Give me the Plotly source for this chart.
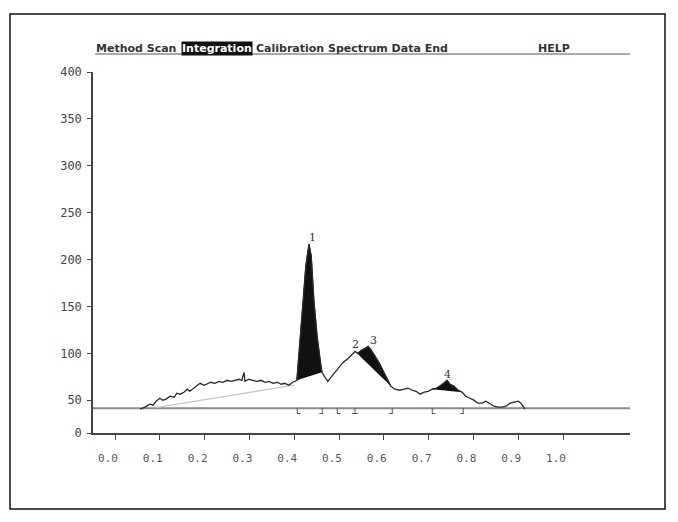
import plotly.graph_objects as go

# ---------------- data ----------------
scan_x = [0.056,0.067,0.078,0.085,0.092,0.100,0.107,0.114,0.123,0.132,0.138,0.145,0.154,0.161,0.167,
          0.176,0.183,0.190,0.199,0.205,0.214,0.223,0.232,0.241,0.250,0.259,0.268,0.277,0.283,0.288,
          0.290,0.299,0.308,0.317,0.326,0.335,0.344,0.353,0.362,0.371,0.379,0.388,0.397,0.406,0.413,
          0.420,0.426,0.433,0.438,0.444,0.451,0.458,0.462,0.469,0.475,0.482,0.491,0.500,0.509,0.518,
          0.527,0.536,0.542,0.549,0.558,0.565,0.571,0.580,0.589,0.598,0.607,0.616,0.625,0.636,0.645,
          0.654,0.663,0.672,0.681,0.690,0.699,0.708,0.717,0.725,0.734,0.741,0.748,0.757,0.766,0.775,
          0.783,0.792,0.801,0.810,0.819,0.828,0.837,0.846,0.855,0.864,0.873,0.882,0.891,0.900,0.906,
          0.911,0.915]
scan_y = [40.5,42.6,45.8,44.7,48.9,52.1,50.0,51.1,54.2,53.2,57.4,56.4,58.5,61.7,59.5,
          62.7,64.8,68.0,65.9,67.0,69.1,68.0,70.1,69.1,71.2,70.1,71.2,72.3,71.2,79.7,
          70.1,72.3,71.2,70.1,71.2,69.1,70.1,68.0,69.1,67.0,68.0,65.9,69.1,71.2,113.6,
          156.0,193.2,216.5,203.8,156.0,118.9,92.4,79.7,74.4,70.1,74.4,79.7,85.0,90.3,93.5,
          97.7,102.0,99.8,103.0,105.1,107.3,104.1,97.7,90.3,81.8,73.3,64.8,61.7,60.6,61.7,
          62.7,60.6,59.5,56.4,58.5,59.5,61.7,62.7,64.8,68.0,71.2,67.0,64.8,60.6,58.5,
          54.2,52.1,50.0,46.8,46.8,48.9,45.8,43.6,42.6,42.6,43.6,46.8,47.9,48.9,46.8,
          42.6,40.5]

# integrated (filled) peaks: start / end positions
fill_start = [0.406, 0.536, 0.708]
fill_end = [0.462, 0.616, 0.775]

# peak numbers
peak_names = ["1", "2", "3", "4"]
peak_label_x = [0.440, 0.536, 0.576, 0.743]
peak_label_y = [224, 109, 114, 77]

# peak boundary markers under the baseline
marker_x = [0.408, 0.462, 0.496, 0.536, 0.618, 0.708, 0.777]
marker_sym = ["\u2514", "\u2518", "\u2514", "\u2534", "\u2518", "\u2514", "\u2518"]
marker_level = 36

baseline_level = 41.5
drift_x = [0.09, 0.40]
drift_y = [42, 66]

x_ticks = [0.0, 0.1, 0.2, 0.3, 0.4, 0.5, 0.6, 0.7, 0.8, 0.9, 1.0]
x_ticktext = ["0.0", "0.1", "0.2", "0.3", "0.4", "0.5", "0.6", "0.7", "0.8", "0.9", "1.0"]
y_ticks = [15, 50, 100, 150, 200, 250, 300, 350, 400]
y_ticktext = ["0", "50", "100", "150", "200", "250", "300", "350", "400"]

menu_items = ["Method Scan", "Integration", "Calibration Spectrum Data End", "HELP"]

# ---------------- figure ----------------
OFF = 8                      # default page body margin
W, H = 678 - OFF, 522 - OFF
PL, PR, PT, PB = 93, 630, 72, 433   # plot area in page pixels
L, T = PL - OFF, PT - OFF
R, B = W - (PR - OFF), H - (PB - OFF)
pw, ph = PR - PL, PB - PT


def px(x):
    return (x - PL) / pw


def py(y):
    return (PB - y) / ph


fig = go.Figure()

# baseline line
fig.add_trace(go.Scatter(x=[-0.05, 1.16], y=[baseline_level, baseline_level], mode="lines",
                         line=dict(color="#8a8a8a", width=2), hoverinfo="skip", showlegend=False))
# drift baseline
fig.add_trace(go.Scatter(x=drift_x, y=drift_y, mode="lines",
                         line=dict(color="#c4c4c4", width=1.2), hoverinfo="skip", showlegend=False))

# filled peaks
for s, e in zip(fill_start, fill_end):
    fx = [x for x in scan_x if s - 1e-9 <= x <= e + 1e-9]
    fy = [y for x, y in zip(scan_x, scan_y) if s - 1e-9 <= x <= e + 1e-9]
    fig.add_trace(go.Scatter(x=fx, y=fy, mode="lines", fill="toself", fillcolor="#111111",
                             line=dict(color="#111111", width=1), hoverinfo="skip", showlegend=False))

# scan curve
fig.add_trace(go.Scatter(x=scan_x, y=scan_y, mode="lines",
                         line=dict(color="#2a2a2a", width=1.3), hoverinfo="skip", showlegend=False))

# peak labels
for n, x, y in zip(peak_names, peak_label_x, peak_label_y):
    fig.add_annotation(x=x, y=y, text=n, showarrow=False,
                       font=dict(family="DejaVu Serif", size=11, color="#333"))

# boundary markers
for x, s in zip(marker_x, marker_sym):
    fig.add_annotation(x=x, y=marker_level, text=s, showarrow=False,
                       font=dict(family="DejaVu Sans Mono", size=10, color="#333"))

# menu bar
menu_pos = [95, 181, 255, 537]
for txt, xp in zip(menu_items, menu_pos):
    hl = txt == "Integration"
    fig.add_annotation(x=px(xp), y=py(49), xref="paper", yref="paper", xanchor="left",
                       yanchor="middle", text="<b>%s</b>" % txt, showarrow=False,
                       font=dict(family="DejaVu Sans", size=11, color="#fff" if hl else "#333"),
                       bgcolor="#111" if hl else None, borderpad=0)
fig.add_shape(type="line", xref="paper", yref="paper", x0=px(95), x1=px(630), y0=py(54), y1=py(54),
              line=dict(color="#555", width=1.2))

# outer frame
fig.add_shape(type="rect", xref="paper", yref="paper", x0=px(10), x1=px(665), y0=py(14), y1=py(509),
              line=dict(color="#111", width=1.5))

fig.update_layout(
    width=W, height=H, margin=dict(l=L, r=R, t=T, b=B),
    paper_bgcolor="white", plot_bgcolor="white", showlegend=False,
    xaxis=dict(range=[(PL - 115) / 448, (PR - 115) / 448], tickvals=x_ticks, ticktext=x_ticktext,
               showgrid=False, zeroline=False, showline=True, linecolor="#444", linewidth=1.5,
               ticks="outside", ticklen=5, tickcolor="#444", tickwidth=1.2,
               ticklabelshift=-7, ticklabelstandoff=9,
               tickfont=dict(family="DejaVu Sans Mono", size=11, color="#555")),
    yaxis=dict(range=[15, 400], tickvals=y_ticks, ticktext=y_ticktext,
               showgrid=False, zeroline=False, showline=True, linecolor="#444", linewidth=1.5,
               ticks="outside", ticklen=4, tickcolor="#444", tickwidth=1.2,
               ticklabelstandoff=3,
               tickfont=dict(family="DejaVu Sans Mono", size=12, color="#444")),
)

fig.write_html("out.html")
